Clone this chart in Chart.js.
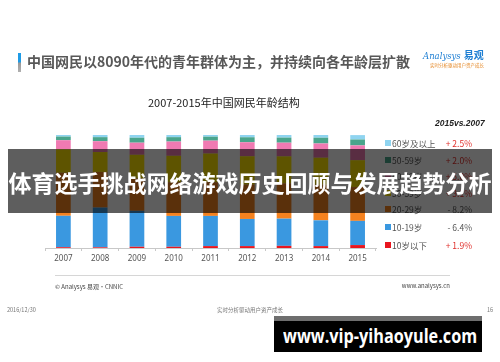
<!DOCTYPE html>
<html lang="zh">
<head>
<meta charset="UTF-8">
<title>2007-2015年中国网民年龄结构</title>
<script src="https://cdn.jsdelivr.net/npm/chart.js"></script>
<style>
    body { margin: 0; background: #fff; font-family: "Noto Sans CJK SC", "Noto Sans", sans-serif; }
    #page { position: relative; width: 500px; height: 362px; overflow: hidden; background: #fff; }
    #page div { position: absolute; white-space: nowrap; }
    canvas { position: absolute; left: 0; top: 0; }
    .mark { left: 18px; top: 53px; width: 3px; height: 19px; background: linear-gradient(#1e9be6 0%, #1e9be6 45%, #9a9a9a 55%, #b0b0b0 100%); }
    .title { left: 27px; top: 54px; font-size: 14px; line-height: 15px; font-weight: bold; color: #585858; }
    .logo { left: 423px; top: 49px; font-size: 9px; line-height: 11px; color: #1f7fd3; }
    .logo i { font-family: "DejaVu Serif", serif; font-size: 8.5px; }
    .logo b { font-size: 10px; margin-left: 3px; }
    .tag { left: 430px; top: 62px; font-size: 4.5px; line-height: 6px; color: #e58a2a; }
    .ctitle { left: 148px; top: 96px; font-size: 11px; line-height: 13px; color: #222; }
    .lhead { left: 435px; top: 118px; font-size: 8.5px; line-height: 10px; font-weight: bold; font-style: italic; color: #222; font-family: "Liberation Sans", sans-serif; }
    .sw { width: 6px; height: 6px; }
    .lab { font-size: 8.5px; line-height: 10px; color: #555; }
    .val { font-size: 8.5px; line-height: 10px; text-align: right; width: 40px; }
    .rule { left: 55px; top: 275px; width: 395px; height: 1px; background: #d6d6d6; }
    .src { left: 55px; top: 283px; font-size: 6px; line-height: 8px; color: #444; }
    .site { left: 400px; top: 282px; width: 50px; text-align: right; font-size: 6px; line-height: 8px; color: #444; }
    .foot { top: 306px; font-size: 5.5px; line-height: 8px; color: #777; }
    .banner { left: 8px; top: 149px; width: 484px; height: 64px; background: rgba(0,0,0,0.63); color: #fff; font-size: 23px; font-weight: bold; line-height: 66px; text-align: center; z-index: 5; }
    .wm { left: 274px; top: 316px; width: 208px; height: 36px; background: #000; border-top: 5px solid #6e6e6e; box-sizing: border-box; color: #fff; z-index: 6; }
    .wm span { position: absolute; left: 9px; top: 3px; font-family: "Open Sans", sans-serif; font-weight: bold; font-size: 19px; line-height: 24px; transform-origin: 0 50%; display: inline-block; }
</style>
</head>
<body>
<div id="page">
    <canvas id="chart" width="500" height="362"></canvas>
    <div class="mark"></div>
    <div class="title">中国网民以8090年代的青年群体为主，并持续向各年龄层扩散</div>
    <div class="logo"><i>Analysys</i><b>易观</b></div>
    <div class="tag">实时分析驱动用户资产成长</div>
    <div class="ctitle">2007-2015年中国网民年龄结构</div>
    <div class="lhead">2015vs.2007</div>
    <div id="legend"></div>
    <div class="rule"></div>
    <div class="src">© Analysys 易观·CNNIC</div>
    <div class="site">www.analysys.cn</div>
    <div class="foot" style="left:7px">2016/12/30</div>
    <div class="foot" style="left:217px">实时分析驱动用户资产成长</div>
    <div class="foot" style="left:487px">16</div>
    <div class="banner">体育选手挑战网络游戏历史回顾与发展趋势分析</div>
    <div class="wm"><span id="wmText">www.vip-yihaoyule.com</span></div>
</div>

<script>
// data (percent of netizens)
const years = ['2007', '2008', '2009', '2010', '2011', '2012', '2013', '2014', '2015'];
const under10 = [0.7, 0.6, 1.1, 1.1, 1.7, 1.7, 1.9, 1.7, 2.6];
const age10to19 = [27.8, 35.2, 31.8, 27.3, 26.7, 24.0, 24.1, 22.8, 21.4];
const age20to29 = [38.1, 31.5, 28.6, 29.8, 29.8, 30.4, 31.2, 31.5, 29.9];
const age30to39 = [20.7, 17.6, 21.0, 23.4, 25.4, 25.1, 23.9, 23.9, 23.8];
const age40to49 = [8.1, 9.6, 10.7, 12.6, 11.4, 12.4, 12.1, 12.6, 13.1];
const age50to59 = [3.2, 3.6, 4.4, 3.9, 3.5, 4.4, 4.5, 5.1, 5.2];
const age60plus = [1.4, 1.9, 2.4, 1.9, 1.5, 2.0, 2.3, 2.4, 3.9];

const seriesNames = ['10岁以下', '10-19岁', '20-29岁', '30-39岁', '40-49岁', '50-59岁', '60岁及以上'];
const seriesData = [under10, age10to19, age20to29, age30to39, age40to49, age50to59, age60plus];
const seriesColors = ['#e8161f', '#3a98e0', '#f5821f', '#ffe500', '#f07ab2', '#4aa58c', '#8fd4f0'];

new Chart(document.getElementById('chart'), {
    type: 'bar',
    data: {
        labels: years,
        datasets: seriesNames.map((name, i) => ({
            label: name,
            data: seriesData[i],
            backgroundColor: seriesColors[i],
            borderWidth: 0,
            categoryPercentage: 1,
            barPercentage: 0.4
        }))
    },
    options: {
        responsive: false,
        animation: false,
        layout: { padding: { left: 45, right: 124, top: 135, bottom: 94 } },
        plugins: { legend: { display: false }, tooltip: { enabled: false } },
        scales: {
            x: {
                stacked: true,
                grid: { drawOnChartArea: false, drawTicks: true, tickLength: 3, color: '#c8c8c8', offset: true },
                border: { color: '#c8c8c8' },
                ticks: { color: '#555', padding: 3, font: { size: 8, family: 'Noto Sans' } },
                afterFit: s => { s.height = 20; }
            },
            y: { stacked: true, display: false, min: 0, max: 100 }
        }
    }
});

// legend on the right, top to bottom, with change 2015 vs 2007
const legend = document.getElementById('legend');
const rowTops = [138, 155, 171, 188, 204, 222, 240];
for (let k = 0; k < seriesNames.length; k++) {
    const i = seriesNames.length - 1 - k;
    const d = seriesData[i];
    const diff = d[d.length - 1] - d[0];
    const top = rowTops[k];
    legend.insertAdjacentHTML('beforeend',
        `<div class="sw" style="left:385px;top:${top + 2}px;background:${seriesColors[i]}"></div>` +
        `<div class="lab" style="left:392px;top:${top}px">${seriesNames[i]}</div>` +
        `<div class="val" style="left:432px;top:${top}px;color:${diff >= 0 ? '#e0302c' : '#555'}">` +
        `${diff >= 0 ? '+' : '-'} ${Math.abs(diff).toFixed(1)}%</div>`);
}

// squeeze the watermark text into its box
const wm = document.getElementById('wmText');
wm.style.transform = 'scaleX(' + (194 / wm.offsetWidth) + ')';
</script>
</body>
</html>
